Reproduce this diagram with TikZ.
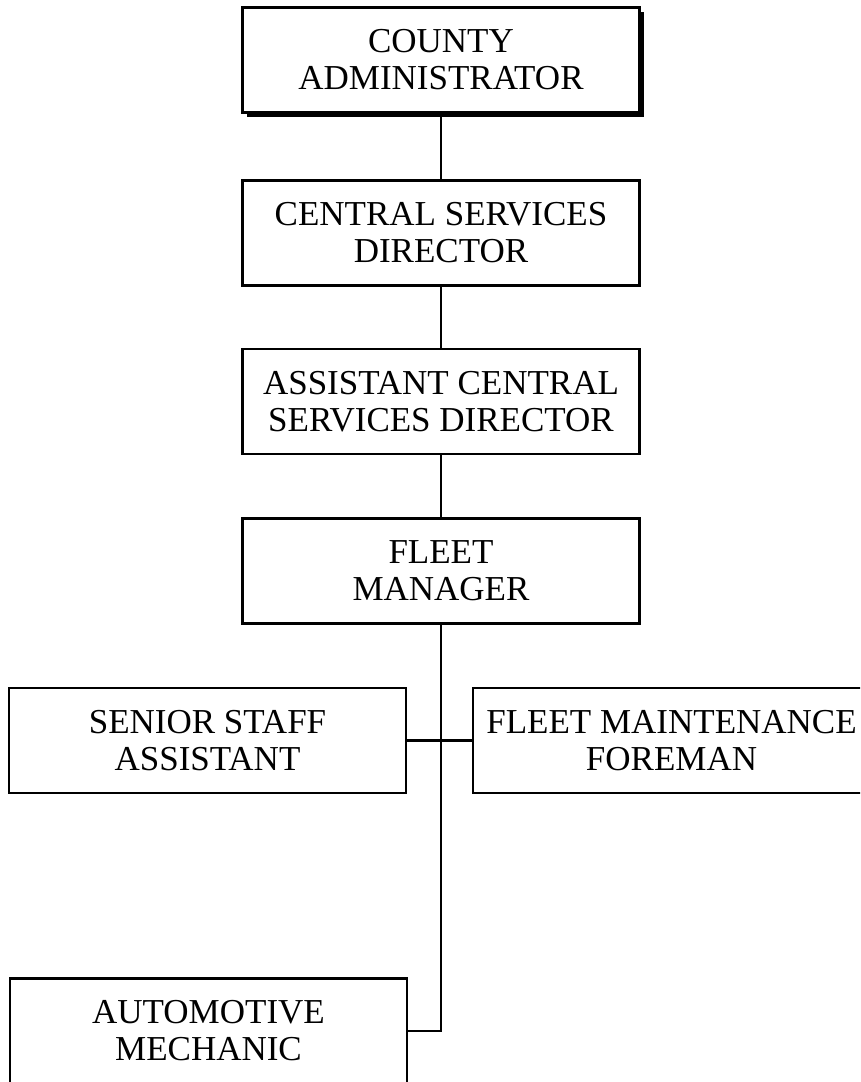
\documentclass[tikz,border=0pt]{standalone}
\usepackage{fontspec}
\setmainfont{Liberation Serif}
\usetikzlibrary{shadows}
\tikzset{
  orgbox/.style={draw=black, line width=2.1pt, fill=white, minimum width=397pt, minimum height=105pt,
    inner sep=0pt, align=center, font=\fontsize{35}{37}\selectfont},
  shadowbox/.style={orgbox, drop shadow={shadow xshift=4pt, shadow yshift=-4pt, fill=black, opacity=1}},
  link/.style={draw=black, line width=2.7pt}
}
\begin{document}
\begin{tikzpicture}[x=1pt,y=-1pt]
\useasboundingbox (0,0) rectangle (860,1082);
\clip (0,0) rectangle (860,1082);
\node[shadowbox] (top) at (441,60) {COUNTY\\ADMINISTRATOR};
\node[orgbox] (central) at (441,233) {CENTRAL SERVICES\\DIRECTOR};
\node[orgbox] (asst) at (441,401.5) {ASSISTANT CENTRAL\\SERVICES DIRECTOR};
\node[orgbox] (fm) at (441,571) {FLEET\\MANAGER};
\node[orgbox] (senior) at (207.5,740.5) {SENIOR STAFF\\ASSISTANT};
\node[orgbox] (maint) at (671.5,740.5) {FLEET MAINTENANCE\\FOREMAN};
\node[orgbox] (auto) at (208.5,1031) {AUTOMOTIVE\\MECHANIC};
\draw[link] (top) -- (central);
\draw[link] (central) -- (asst);
\draw[link] (asst) -- (fm);
\draw[link] (fm.south) |- (auto.east);
\draw[link] (senior.east) -- (maint.west);
\end{tikzpicture}
\end{document}
